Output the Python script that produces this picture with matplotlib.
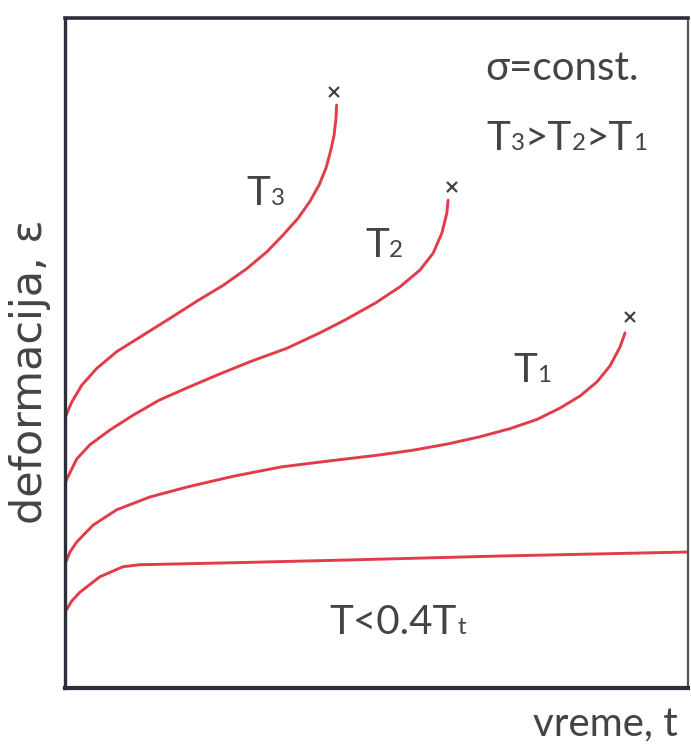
import matplotlib.pyplot as plt

# creep curves: time (0-100) vs deformation (0-100)
t3_time = [0.0, 1.1, 2.7, 5.1, 8.3, 12.6, 16.9, 21.1, 25.4, 29.2, 32.4, 35.0,
           37.4, 39.3, 40.8, 41.9, 42.6, 43.2, 43.5, 43.6]
t3_def = [40.3, 42.7, 45.2, 47.7, 50.2, 52.7, 55.2, 57.7, 60.1, 62.6, 65.1, 67.6,
          70.1, 72.6, 75.1, 77.6, 80.0, 82.5, 85.0, 87.0]

t2_time = [0.0, 0.3, 1.9, 4.0, 7.2, 10.9, 15.2, 19.6, 24.4, 29.7, 35.6, 40.9,
           44.9, 49.9, 53.8, 57.0, 59.1, 60.5, 61.3, 61.5]
t2_def = [30.4, 31.2, 34.2, 36.3, 38.5, 40.7, 43.0, 44.8, 46.7, 48.7, 50.7, 53.0,
          54.9, 57.5, 59.9, 62.4, 64.9, 67.9, 70.9, 72.8]

t1_time = [0.0, 0.8, 1.9, 4.5, 8.3, 13.6, 19.6, 27.0, 34.7, 42.5, 50.6, 55.9,
           61.3, 66.6, 71.4, 75.8, 79.5, 82.7, 85.4, 87.5, 89.1, 89.9]
t1_def = [18.5, 20.3, 21.8, 24.3, 26.6, 28.5, 30.0, 31.6, 33.0, 33.9, 34.8, 35.5,
          36.4, 37.5, 38.7, 40.1, 41.8, 43.6, 45.7, 48.1, 50.9, 53.0]

low_time = [0.0, 1.1, 2.4, 5.6, 9.3, 12.0, 27.0, 45.1, 69.8, 100.0]
low_def = [11.3, 13.0, 14.3, 16.6, 18.1, 18.4, 18.7, 19.1, 19.7, 20.3]

# rupture points (x marks)
rupture_time = [43.2, 62.1, 90.7]
rupture_def = [89.0, 74.8, 55.4]

RED = '#e23c4a'
INK = '#444444'
FONT = 'Lato'
SIZE = 29
SMALL = 0.6
DESC = 0.19  # descent ratio used to keep mixed-size pieces on one baseline


def mixed_text(ax, x, y, parts):
    """Write text pieces of different size side by side on one baseline."""
    prev, prev_size = None, None
    for s, k in parts:
        size = SIZE * k
        if prev is None:
            prev = ax.text(x, y, s, fontsize=size, family=FONT,
                           color=INK, ha='left', va='baseline')
        else:
            prev = ax.annotate(s, xy=(1, 0), xycoords=prev,
                               xytext=(0, DESC * (prev_size - size)),
                               textcoords='offset points',
                               fontsize=size, family=FONT,
                               color=INK, ha='left', va='bottom')
        prev_size = size


fig = plt.figure(figsize=(6.91, 7.45), dpi=100)
ax = fig.add_axes([0.094, 0.0765, 0.9016, 0.8993])
ax.set_xlim(0, 100)
ax.set_ylim(0, 100)
ax.set_xticks([])
ax.set_yticks([])

for name, lw, col in [('left', 2.4, '#2e2e3a'), ('bottom', 3.0, '#2e2e3a'),
                      ('top', 2.6, '#2e2e3a'), ('right', 1.6, '#555555')]:
    ax.spines[name].set_linewidth(lw)
    ax.spines[name].set_color(col)

for xs, ys in [(t3_time, t3_def), (t2_time, t2_def), (t1_time, t1_def), (low_time, low_def)]:
    ax.plot(xs, ys, color=RED, linewidth=2.1, solid_capstyle='round',
            solid_joinstyle='round')

ax.plot(rupture_time, rupture_def, linestyle='none', marker='x', markersize=7,
        markeredgewidth=1.6, color='#444444')

# curve labels
mixed_text(ax, 29.2, 72.1, [('T', 1), ('3', SMALL)])
mixed_text(ax, 48.2, 64.3, [('T', 1), ('2', SMALL)])
mixed_text(ax, 71.9, 45.7, [('T', 1), ('1', SMALL)])
mixed_text(ax, 42.5, 8.1, [('T<0.4T', 1), ('t', SMALL)])

mixed_text(ax, 67.4, 90.7, [('σ=const.', 1)])
mixed_text(ax, 67.7, 80.3, [('T', 1), ('3', SMALL), ('>T', 1), ('2', SMALL),
                            ('>T', 1), ('1', SMALL)])

ax.set_xlabel('vreme, t', fontsize=SIZE, family=FONT, color=INK, va='center')
ax.xaxis.set_label_coords(0.868, -0.055)
ax.set_ylabel('deformacija, ε', fontsize=31, family='DejaVu Sans', color=INK,
              va='center')
ax.yaxis.set_label_coords(-0.056, 0.472)

fig.savefig('out.png', dpi=100, facecolor='white')
